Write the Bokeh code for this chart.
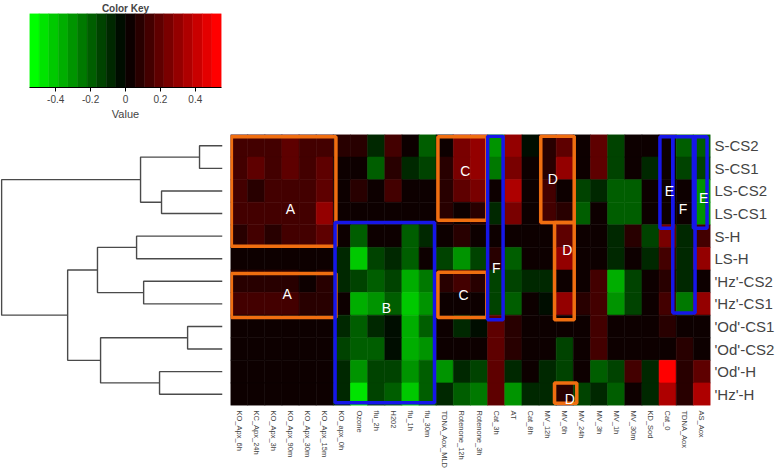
import numpy as np
from bokeh.plotting import figure
from bokeh.models import ColumnDataSource, Range1d, FactorRange, LinearColorMapper, FixedTicker
from bokeh.layouts import column, row
from bokeh.transform import transform
from bokeh.core.properties import value
from bokeh.embed import file_html
from bokeh.resources import INLINE

# ---------------- data ----------------
rows = ["S-CS2", "S-CS1", "LS-CS2", "LS-CS1", "S-H", "LS-H",
        "'Hz'-CS2", "'Hz'-CS1", "'Od'-CS1", "'Od'-CS2", "'Od'-H", "'Hz'-H"]
cols = ["KO_Apx_6h", "KC_Apx_24h", "KO_Apx_3h", "KO_Apx_90m", "KO_Apx_30m", "KO_Apx_15m",
        "KO_apx_0h", "Ozone", "flu_2h", "H202", "flu_1h", "flu_30m", "TDNA_Aox_MLD",
        "Rotenone_12h", "Rotenone_3h", "Cat_3h", "AT", "Cat_8h", "MV_12h", "MV_6h",
        "MV_24h", "MV_3h", "MV_1h", "MV_30m", "KD_Sod", "Cat_0", "TDNA_Aox", "AS_Aox"]

v_S_CS2  = [0.15, 0.15, 0.15, 0.20, 0.15, 0.15, 0.08, 0.06, -0.10, 0.15, 0.00, -0.18, 0.00, 0.25,
            0.28, -0.28, 0.28, -0.05, 0.06, 0.22, 0.00, 0.18, -0.12, 0.00, 0.00, 0.00, -0.18, -0.22]
v_S_CS1  = [0.15, 0.22, 0.15, 0.20, 0.15, 0.20, 0.00, 0.00, -0.22, 0.06, -0.10, -0.15, 0.06, 0.25,
            0.28, -0.25, 0.25, 0.00, 0.10, 0.30, 0.00, 0.18, -0.12, 0.00, -0.06, 0.00, -0.12, -0.15]
v_LS_CS2 = [0.15, 0.06, 0.15, 0.15, 0.15, 0.20, 0.00, 0.08, 0.00, 0.15, 0.00, 0.00, 0.10, 0.18,
            0.25, 0.00, 0.38, 0.00, 0.12, 0.00, -0.12, -0.08, -0.22, -0.18, 0.00, 0.00, 0.00, -0.32]
v_LS_CS1 = [0.15, 0.15, 0.15, 0.15, 0.15, 0.28, 0.00, 0.00, 0.00, 0.00, 0.00, 0.00, 0.10, 0.00,
            0.06, -0.10, 0.25, 0.00, 0.15, 0.08, -0.22, 0.00, -0.22, -0.18, 0.00, 0.00, 0.00, -0.32]
v_S_H    = [0.06, 0.15, 0.06, 0.15, 0.15, 0.18, 0.00, -0.20, 0.00, 0.00, -0.18, -0.06, 0.03, 0.06,
            0.00, 0.00, 0.00, 0.00, 0.00, 0.18, 0.00, 0.00, -0.06, 0.06, -0.15, 0.25, -0.10, 0.12]
v_LS_H   = [0.00, 0.00, 0.00, 0.00, 0.00, 0.00, -0.08, -0.40, -0.12, -0.06, -0.18, 0.00, -0.15, -0.32,
            -0.12, 0.06, -0.18, 0.00, 0.00, 0.30, 0.00, 0.00, -0.06, 0.00, -0.06, 0.15, -0.10, 0.30]
v_Hz_CS2 = [0.10, 0.10, 0.10, 0.10, 0.03, 0.10, -0.08, -0.15, -0.22, -0.12, -0.35, -0.25, 0.10, 0.12,
            0.06, -0.12, -0.12, -0.08, -0.06, 0.00, 0.03, 0.12, -0.38, -0.15, 0.00, 0.06, -0.10, 0.00]
v_Hz_CS1 = [0.15, 0.15, 0.15, 0.15, 0.10, 0.10, 0.00, -0.38, -0.28, -0.20, -0.40, -0.30, 0.00, 0.00,
            0.03, -0.15, -0.22, 0.00, -0.04, 0.28, 0.06, 0.12, -0.28, -0.15, 0.00, 0.15, -0.25, 0.28]
v_Od_CS1 = [0.00, 0.00, 0.00, 0.00, 0.00, 0.00, -0.10, -0.18, -0.10, -0.04, -0.35, -0.22, 0.00, -0.06,
            -0.05, 0.18, 0.06, 0.00, 0.00, 0.00, 0.00, 0.12, 0.00, 0.00, 0.00, 0.10, 0.00, 0.00]
v_Od_CS2 = [0.00, 0.00, 0.00, 0.00, 0.00, 0.00, -0.12, -0.22, -0.22, -0.03, -0.35, -0.28, 0.00, 0.00,
            0.00, 0.18, 0.10, 0.00, 0.00, -0.15, 0.00, 0.12, 0.00, 0.00, 0.00, 0.00, 0.06, 0.00]
v_Od_H   = [0.00, 0.00, 0.00, 0.00, 0.00, 0.00, -0.10, -0.32, -0.12, -0.12, -0.28, -0.18, -0.32, -0.10,
            -0.15, 0.20, -0.08, 0.00, -0.06, -0.15, 0.00, -0.18, -0.12, 0.15, -0.10, 0.50, 0.06, 0.22]
v_Hz_H   = [0.00, 0.00, 0.00, 0.00, 0.00, 0.00, -0.10, -0.47, -0.15, -0.18, -0.42, -0.20, -0.10, -0.22,
            -0.25, 0.20, -0.28, -0.10, -0.10, 0.06, -0.15, -0.08, -0.18, 0.00, -0.10, 0.35, 0.06, 0.35]
row_values = [v_S_CS2, v_S_CS1, v_LS_CS2, v_LS_CS1, v_S_H, v_LS_H,
              v_Hz_CS2, v_Hz_CS1, v_Od_CS1, v_Od_CS2, v_Od_H, v_Hz_H]

# dendrogram merges (child a, child b, height); leaves 0..11, new nodes 12..
merge_a = [0, 2, 12, 4, 6, 15, 8, 10, 18, 17, 14]
merge_b = [1, 3, 13, 5, 7, 16, 9, 11, 19, 20, 21]
merge_h = [0.104, 0.276, 0.371, 0.389, 0.357, 0.566, 0.158, 0.285, 0.552, 0.701, 1.0]

# colour key
key_low, key_high, key_bins = -0.55, 0.55, 20
key_ticks = [-0.4, -0.2, 0.0, 0.2, 0.4]
key_tick_labels = ["-0.4", "-0.2", "0", "0.2", "0.4"]

# annotation boxes (column units from left, row units from top)
box_left   = [0.05, 0.05, 6.1, 12.1, 12.1, 15.0, 18.1, 18.9, 18.9, 25.05, 25.8, 27.0]
box_right  = [6.15, 6.15, 11.9, 14.95, 14.95, 15.9, 20.05, 20.05, 20.2, 25.8, 27.1, 27.8]
box_top    = [0.1, 6.15, 3.9, 0.1, 6.1, 0.08, 0.08, 3.9, 11.0, 0.1, 0.1, 0.1]
box_bottom = [4.95, 8.1, 11.88, 3.8, 8.1, 8.2, 3.9, 8.2, 11.9, 4.15, 7.9, 4.15]
box_kind   = ["o", "o", "b", "o", "o", "b", "o", "o", "o", "b", "b", "b"]
lab_text = ["A", "A", "B", "C", "C", "F", "D", "D", "D", "E", "F", "E"]
lab_col  = [3.5, 3.3, 9.1, 13.7, 13.6, 15.5, 18.8, 19.65, 19.8, 25.6, 26.4, 27.6]
lab_row  = [3.3, 7.05, 7.7, 1.6, 7.1, 5.9, 1.95, 5.1, 11.7, 2.5, 3.3, 2.8]

ORANGE = "#f06e10"
BLUE = "#1616e8"
FONT = "Liberation Sans"

# ---------------- palette ----------------
edges = np.linspace(key_low, key_high, key_bins + 1)
centers = (edges[:-1] + edges[1:]) / 2
cmax = centers.max()
palette = []
for c in centers:
    v = int(round(255 * min(1.0, abs(c) / cmax)))
    palette.append("#00%02x00" % v if c < 0 else "#%02x0000" % v)
mapper = LinearColorMapper(palette=palette, low=key_low, high=key_high)

# ---------------- colour key ----------------
key = figure(width=230, height=128, x_range=Range1d(key_low, key_high), y_range=Range1d(0, 1),
             title="Color Key", output_backend="svg", toolbar_location=None,
             min_border_left=29, min_border_right=9, min_border_top=0, min_border_bottom=41)
key.title.align = "center"
key.title.text_font = FONT
key.title.text_font_style = "bold"
key.title.text_font_size = "10px"
key.title.standoff = 0
key.title.offset = 0
key.quad(left=edges[:-1], right=edges[1:], bottom=0, top=1, fill_color=palette, line_color=palette,
         line_width=0.5)
key.yaxis.visible = False
key.grid.visible = False
key.outline_line_color = None
key.xaxis.ticker = FixedTicker(ticks=key_ticks)
key.xaxis.major_label_overrides = {t: l for t, l in zip(key_ticks, key_tick_labels)}
key.xaxis.minor_tick_line_color = None
key.xaxis.major_tick_in = 0
key.xaxis.major_tick_out = 4
key.xaxis.major_label_standoff = 3
key.xaxis.major_label_text_font = FONT
key.xaxis.major_label_text_font_size = "10px"
key.xaxis.axis_label = "Value"
key.xaxis.axis_label_text_font = FONT
key.xaxis.axis_label_text_font_style = "normal"
key.xaxis.axis_label_text_font_size = "11px"
key.xaxis.axis_label_standoff = 2

# ---------------- dendrogram ----------------
n = len(rows)
pos = [i + 0.5 for i in range(n)]
hgt = [0.0] * n
xs, ys = [], []
for a, b, h in zip(merge_a, merge_b, merge_h):
    xs.append([hgt[a], h, h, hgt[b]])
    ys.append([pos[a], pos[a], pos[b], pos[b]])
    pos.append((pos[a] + pos[b]) / 2)
    hgt.append(h)

dend = figure(width=230, height=346, x_range=Range1d(1.005, 0), y_range=Range1d(n, 0),
              output_backend="svg", toolbar_location=None,
              min_border_left=0, min_border_right=8, min_border_top=6, min_border_bottom=69)
dend.multi_line(xs=xs, ys=ys, line_color="#4a4a4a", line_width=1.4)
dend.axis.visible = False
dend.grid.visible = False
dend.outline_line_color = None

# ---------------- heatmap ----------------
cx, cy, cv = [], [], []
for r, vals in zip(rows, row_values):
    for c, v in zip(cols, vals):
        cx.append(c)
        cy.append(r)
        cv.append(v)
src = ColumnDataSource(dict(col=cx, row=cy, val=cv))

heat = figure(width=547, height=346, x_range=FactorRange(factors=cols),
              y_range=FactorRange(factors=rows[::-1]), y_axis_location="right",
              output_backend="svg", toolbar_location=None,
              min_border_left=0, min_border_right=65, min_border_top=6, min_border_bottom=69)
heat.rect(x="col", y="row", width=1, height=1, source=src,
          fill_color=transform("val", mapper), line_color=transform("val", mapper), line_width=0.6)

box_src = ColumnDataSource(dict(
    left=box_left, right=box_right,
    top=[n - t for t in box_top], bottom=[n - b for b in box_bottom],
    color=[ORANGE if k == "o" else BLUE for k in box_kind]))
heat.quad(left="left", right="right", top="top", bottom="bottom", source=box_src,
          fill_alpha=0, line_color="color", line_width=3.5)

lab_src = ColumnDataSource(dict(x=lab_col, y=[n - r for r in lab_row], t=lab_text))
heat.text(x="x", y="y", text="t", source=lab_src, text_color="white", text_align="center",
          text_baseline="middle", text_font=value(FONT), text_font_size="14px")

heat.grid.visible = False
heat.outline_line_color = None
for ax in heat.axis:
    ax.axis_line_color = None
    ax.major_tick_line_color = None
    ax.major_tick_in = 0
    ax.major_tick_out = 0
    ax.minor_tick_line_color = None
    ax.major_label_text_font = FONT
heat.xaxis.major_label_orientation = "vertical"
heat.xaxis.major_label_text_font_size = "7.5px"
heat.xaxis.major_label_standoff = 5
heat.yaxis.major_label_text_font_size = "15px"
heat.yaxis.major_label_standoff = 4

layout = column(key, row(dend, heat))
open("out.html", "w").write(file_html(layout, INLINE))
